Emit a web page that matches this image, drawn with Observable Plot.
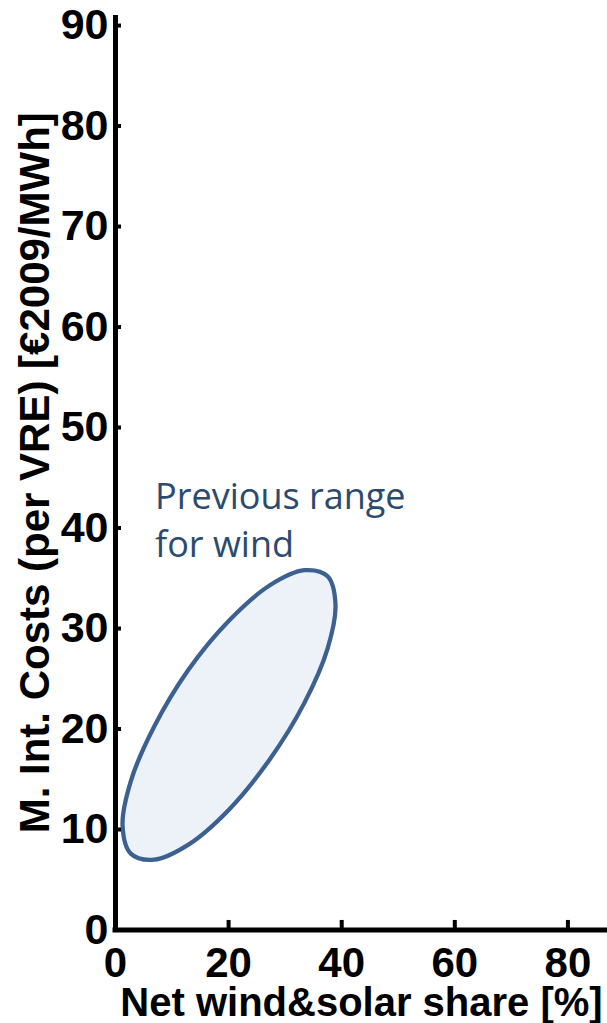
<!DOCTYPE html>
<html>
<head>
<meta charset="utf-8">
<script src="https://cdn.jsdelivr.net/npm/d3@7"></script>
<script src="https://cdn.jsdelivr.net/npm/@observablehq/plot@0.6"></script>
<style>
  html, body { margin: 0; padding: 0; background: #ffffff; }
  #chart svg { display: block; }
</style>
</head>
<body>
<div id="chart"></div>
<script>
// Tick labels
const xTicks = [0, 20, 40, 60, 80];
const yTicks = [0, 10, 20, 30, 40, 50, 60, 70, 80, 90];

// Outline of the "previous range for wind" region
const rangeX = [38.9, 37.5, 33.4, 27.3, 20.1, 12.9, 6.8, 2.7, 1.25, 2.7, 6.8, 12.9, 20.1, 27.3, 33.4, 37.5];
const rangeY = [32.4, 35.2, 35.8, 34.3, 30.8, 25.9, 20.2, 14.8, 10.4, 7.6, 7.0, 8.5, 12.0, 17.0, 22.6, 28.0];

// Annotation
const noteText = ["Previous range\nfor wind"];
const noteX = [7.0];
const noteY = [45.3];

const xLabel = "Net wind&solar share [%]";
const yLabel = "M. Int. Costs (per VRE) [€2009/MWh]";

const outline = rangeX.map((x, i) => ({x, y: rangeY[i]}));
const notes = noteText.map((t, i) => ({text: t, x: noteX[i], y: noteY[i]}));

const chart = Plot.plot({
  width: 607,
  height: 1023,
  marginLeft: 115,
  marginRight: 0,
  marginTop: 15,
  marginBottom: 93.5,
  x: {domain: [0, 87]},
  y: {domain: [0, 91]},
  style: {fontFamily: "'Liberation Sans', Arial, sans-serif", color: "#000", background: "#fff", overflow: "visible"},
  marks: [
    Plot.line(outline, {x: "x", y: "y", curve: "catmull-rom-closed", fill: "#edf2f9", stroke: "#3c6090", strokeWidth: 4.3}),
    Plot.text(notes, {x: "x", y: "y", text: "text", textAnchor: "start", lineAnchor: "top", fontFamily: "'Open Sans', sans-serif", fontSize: 36, lineHeight: 1.33, fill: "#2b4a6f"}),
    Plot.ruleY(yTicks, {y: d => d, x1: 0, x2: 1.06, stroke: "#000", strokeWidth: 4}),
    Plot.ruleX(xTicks, {x: d => d, y1: 0, y2: 0.95, stroke: "#000", strokeWidth: 4}),
    Plot.ruleX([0], {y1: 0, y2: 90.75, stroke: "#000", strokeWidth: 5, strokeLinecap: "square"}),
    Plot.ruleY([0], {x1: 0, x2: 87, stroke: "#000", strokeWidth: 5, strokeLinecap: "square"}),
    Plot.axisY({ticks: yTicks, tickSize: 0, tickPadding: 7, fontSize: 43, fontWeight: "bold", label: null}),
    Plot.axisX({ticks: xTicks, tickSize: 0, tickPadding: 17, fontSize: 42, fontWeight: "bold", label: null}),
    Plot.text([yLabel], {frameAnchor: "left", textAnchor: "middle", rotate: -90, dx: -80, fontSize: 42, fontWeight: "bold", fill: "#000"}),
    Plot.text([xLabel], {frameAnchor: "bottom", textAnchor: "middle", lineAnchor: "bottom", dy: 86, fontSize: 40, fontWeight: "bold", fill: "#000"})
  ]
});
document.getElementById("chart").appendChild(chart);
</script>
</body>
</html>
